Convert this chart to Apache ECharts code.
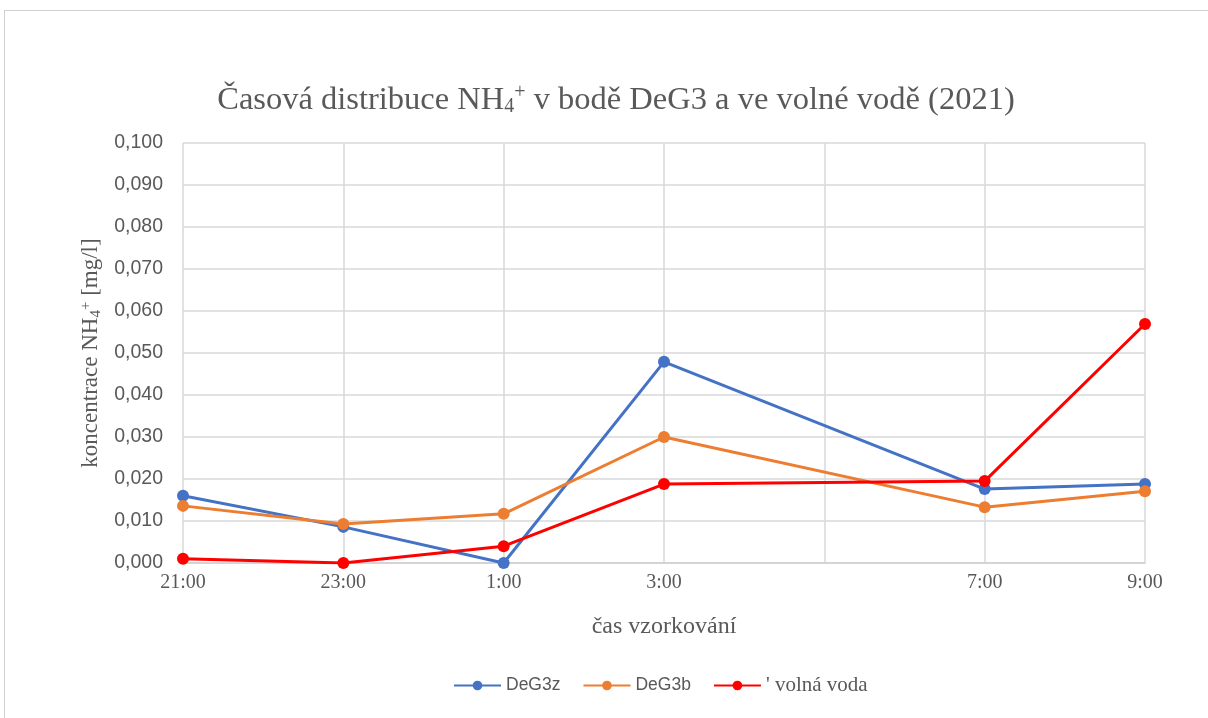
<!DOCTYPE html>
<html>
<head>
<meta charset="utf-8">
<script src="https://cdn.jsdelivr.net/npm/echarts@6/dist/echarts.min.js"></script>
<style>
  html, body { margin: 0; padding: 0; background: #fff; }
  #frame { position: absolute; left: 4px; top: 10px; width: 1220px; height: 720px; border: 1px solid #d0d0d0; box-sizing: border-box; }
  #chart { position: absolute; left: 0; top: 0; width: 1208px; height: 718px; }
</style>
</head>
<body>
<div id="frame"></div>
<div id="chart"></div>
<script>
// časové body (5:00 bez měření)
const casy = ["21:00", "23:00", "1:00", "3:00", "", "7:00", "9:00"];
const deg3z = [0.0160, 0.0086, 0.0000, 0.0479, null, 0.0176, 0.0188];
const deg3b = [0.0136, 0.0093, 0.0117, 0.0300, null, 0.0133, 0.0171];
const volnaVoda = [0.0010, 0.0000, 0.0040, 0.0188, null, 0.0195, 0.0569];

const serif = "'Liberation Serif', 'DejaVu Serif', serif";
const sans = "'Liberation Sans', Arial, sans-serif";

const chart = echarts.init(document.getElementById("chart"));

function line(name, data, color) {
  return {
    name: name,
    type: "line",
    data: data,
    connectNulls: true,
    symbol: "circle",
    symbolSize: 12,
    itemStyle: { color: color },
    lineStyle: { color: color, width: 3 },
  };
}

chart.setOption({
  animation: false,
  title: {
    text: "{t|Časová distribuce NH}{sub|4}{sup|+}{t| v bodě DeG3 a ve volné vodě (2021)}",
    left: 611,
    textAlign: "center",
    top: 78,
    textStyle: {
      fontWeight: "normal",
      rich: {
        t: { fontFamily: serif, fontSize: 32.5, color: "#595959" },
        sub: { fontFamily: serif, fontSize: 20, color: "#595959", verticalAlign: "bottom", padding: [14, 0, 0, 0] },
        sup: { fontFamily: serif, fontSize: 20, color: "#595959", verticalAlign: "top", padding: [0, 0, 14, 0] },
      },
    },
  },
  grid: { left: 183, right: 63, top: 143, bottom: 155, containLabel: false },
  legend: {
    bottom: 17,
    left: 448,
    itemWidth: 47,
    itemHeight: 12,
    itemGap: 22,
    textStyle: { fontFamily: sans, fontSize: 17.5, color: "#595959" },
    data: [
      { name: "DeG3z" },
      { name: "DeG3b" },
      { name: "' volná voda", textStyle: { fontFamily: serif, fontSize: 21, color: "#595959" } },
    ],
  },
  xAxis: {
    type: "category",
    data: casy,
    boundaryGap: false,
    name: "čas vzorkování",
    nameLocation: "middle",
    nameGap: 52,
    nameTextStyle: { fontFamily: serif, fontSize: 24, color: "#595959" },
    axisLine: { lineStyle: { color: "#d0d0d0", width: 1.5 } },
    axisTick: { show: false },
    axisLabel: { fontFamily: serif, fontSize: 20, color: "#595959", margin: 10 },
    splitLine: { show: true, lineStyle: { color: "#d9d9d9", width: 1.5 } },
  },
  yAxis: {
    type: "value",
    min: 0,
    max: 0.1,
    interval: 0.01,
    name: "{t|koncentrace NH}{sub|4}{sup|+}{t| [mg/l]}",
    nameLocation: "middle",
    nameGap: 74,
    nameRotate: 90,
    nameTextStyle: {
      rich: {
        t: { fontFamily: serif, fontSize: 23, color: "#595959" },
        sub: { fontFamily: serif, fontSize: 15, color: "#595959", verticalAlign: "bottom", padding: [10, 0, 0, 0] },
        sup: { fontFamily: serif, fontSize: 15, color: "#595959", verticalAlign: "top", padding: [0, 0, 10, 0] },
      },
    },
    axisLine: { show: false },
    axisTick: { show: false },
    axisLabel: {
      fontFamily: sans,
      fontSize: 19.5,
      color: "#595959",
      margin: 20,
      formatter: (v) => v.toFixed(3).replace(".", ","),
    },
    splitLine: { lineStyle: { color: "#d9d9d9", width: 1.5 } },
  },
  series: [
    line("DeG3z", deg3z, "#4472C4"),
    line("DeG3b", deg3b, "#ED7D31"),
    line("' volná voda", volnaVoda, "#FF0000"),
  ],
});
</script>
</body>
</html>
